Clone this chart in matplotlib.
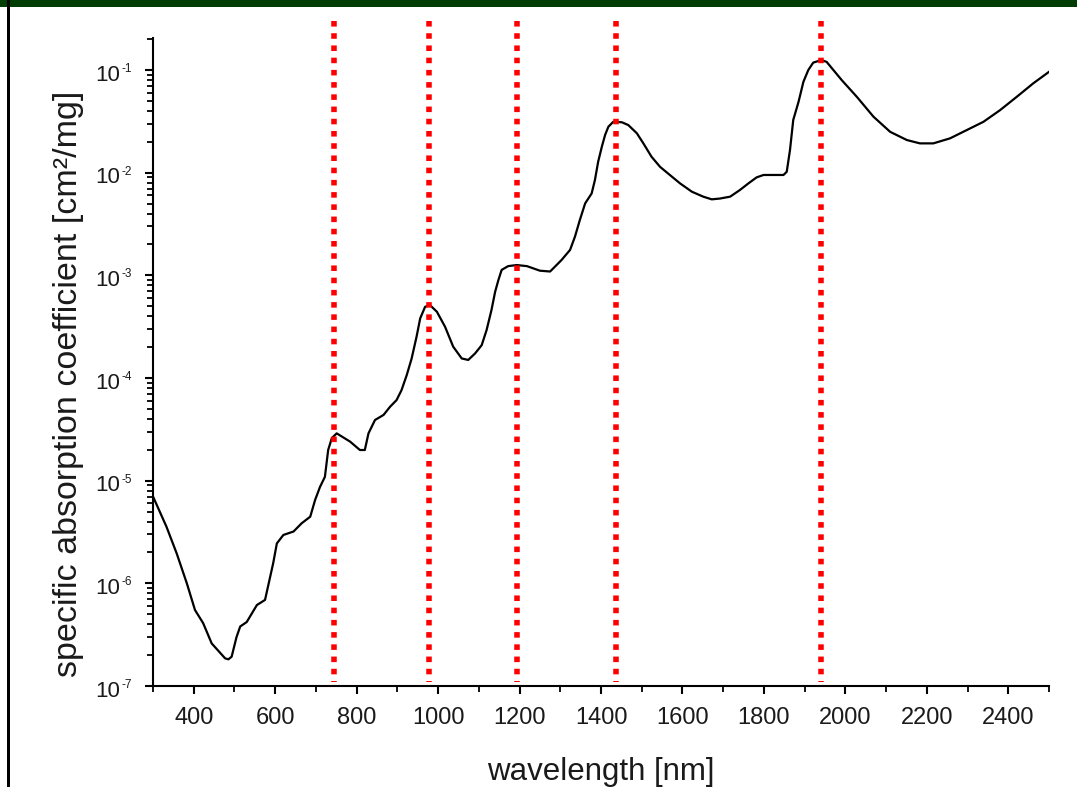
import matplotlib
matplotlib.use("Agg")
import matplotlib.pyplot as plt
from matplotlib.patches import Rectangle
from matplotlib.transforms import offset_copy
from matplotlib.ticker import LogLocator, MultipleLocator

plt.rcParams['font.family'] = ['Liberation Sans', 'DejaVu Sans']

# wavelength [nm] and specific absorption coefficient [cm²/mg]
wavelength = [300, 333, 358, 383, 403, 423, 444, 477, 485, 493, 505, 514, 530, 555,
              575, 595, 604, 620, 645, 665, 686, 698, 710, 722, 730, 739, 751, 784,
              808, 820, 829, 845, 866, 882, 898, 910, 923, 935, 947, 956, 968, 980,
              997, 1017, 1037, 1058, 1074, 1091, 1107, 1119, 1131, 1140, 1148, 1156,
              1172, 1193, 1218, 1250, 1275, 1303, 1324, 1336, 1348, 1361, 1377, 1385,
              1393, 1402, 1410, 1418, 1430, 1451, 1467, 1488, 1504, 1524, 1545, 1569,
              1594, 1623, 1651, 1672, 1692, 1717, 1741, 1762, 1782, 1799, 1848, 1856,
              1864, 1872, 1885, 1897, 1909, 1921, 1941, 1954, 1991, 2028, 2069, 2110,
              2151, 2183, 2216, 2257, 2298, 2339, 2380, 2421, 2461, 2500]
absorption = [7.0e-6, 3.56e-6, 1.96e-6, 1.0e-6, 5.5e-7, 4.1e-7, 2.6e-7, 1.86e-7, 1.82e-7,
              1.93e-7, 3.0e-7, 3.8e-7, 4.2e-7, 6.15e-7, 6.9e-7, 1.57e-6, 2.45e-6, 2.96e-6,
              3.2e-6, 3.85e-6, 4.46e-6, 6.5e-6, 8.7e-6, 1.09e-5, 1.99e-5, 2.6e-5, 2.89e-5,
              2.4e-5, 1.99e-5, 1.99e-5, 2.89e-5, 3.9e-5, 4.37e-5, 5.25e-5, 6.1e-5, 7.6e-5,
              1.07e-4, 1.55e-4, 2.52e-4, 3.81e-4, 4.94e-4, 5.13e-4, 4.42e-4, 3.16e-4,
              2.02e-4, 1.55e-4, 1.5e-4, 1.74e-4, 2.09e-4, 2.93e-4, 4.59e-4, 6.92e-4,
              9.0e-4, 1.13e-3, 1.23e-3, 1.26e-3, 1.23e-3, 1.11e-3, 1.09e-3, 1.41e-3,
              1.77e-3, 2.38e-3, 3.46e-3, 5.02e-3, 6.28e-3, 8.47e-3, 1.28e-2, 1.79e-2,
              2.33e-2, 2.8e-2, 3.13e-2, 3.1e-2, 2.91e-2, 2.42e-2, 1.93e-2, 1.43e-2,
              1.14e-2, 9.5e-3, 7.87e-3, 6.53e-3, 5.84e-3, 5.5e-3, 5.6e-3, 5.84e-3,
              6.78e-3, 7.87e-3, 9.0e-3, 9.5e-3, 9.5e-3, 1.02e-2, 1.66e-2, 3.26e-2,
              4.9e-2, 7.69e-2, 1.0e-1, 1.18e-1, 1.25e-1, 1.2e-1, 7.98e-2, 5.49e-2,
              3.51e-2, 2.5e-2, 2.08e-2, 1.93e-2, 1.93e-2, 2.16e-2, 2.6e-2, 3.13e-2,
              4.07e-2, 5.49e-2, 7.4e-2, 9.6e-2]

# absorption peaks marked with red lines
peaks = [745, 978, 1193, 1437, 1941]

# y axis decades (exponents of 10)
decades = [-7, -6, -5, -4, -3, -2, -1]

fig = plt.figure(figsize=(10.77, 7.87), dpi=100)
ax = fig.add_axes([0.1421, 0.1283, 0.8319, 0.8234])

# frame pieces of the original slide
fig.patches.append(Rectangle((0, 1 - 7 / 787), 1, 7 / 787, transform=fig.transFigure,
                             facecolor='#003d02', edgecolor='none'))
fig.patches.append(Rectangle((7 / 1077, 0), 2.5 / 1077, 1, transform=fig.transFigure,
                             facecolor='black', edgecolor='none'))

ax.plot(wavelength, absorption, color='black', lw=1.6)

for p in peaks:
    ax.plot([p, p], [0.30, 1.1e-7], color='red', lw=4, linestyle=(0, (1, 1.2)),
            clip_on=False, zorder=3)

ax.set_yscale('log')
ax.set_xlim(300, 2500)
ax.set_ylim(1e-7, 0.205)

ax.xaxis.set_minor_locator(MultipleLocator(100))
ax.set_xticks(range(400, 2401, 200))
ax.set_yticks([10.0 ** e for e in decades])
ax.yaxis.set_minor_locator(LogLocator(base=10, subs=range(2, 10), numticks=12))

for s in ['top', 'right']:
    ax.spines[s].set_visible(False)
for s in ['left', 'bottom']:
    ax.spines[s].set_linewidth(1.5)

ax.tick_params(which='major', direction='out', length=6, width=1.5,
               labelcolor='#1a1a1a')
ax.tick_params(which='minor', direction='out', length=4, width=1.3)
ax.tick_params(axis='x', which='major', pad=9, labelsize=17)
ax.tick_params(axis='y', which='both', labelleft=False)

# y tick labels as "10" with a small raised exponent, like the original
ytr = ax.get_yaxis_transform()
base_tr = offset_copy(ytr, fig=fig, x=-33, y=-5, units='dots')
exp_tr = offset_copy(ytr, fig=fig, x=-32, y=1, units='dots')
for e in decades:
    ax.text(0, 10.0 ** e, '10', transform=base_tr, ha='right', va='center',
            fontsize=16, color='#1a1a1a')
    ax.text(0, 10.0 ** e, '-%d' % -e, transform=exp_tr, ha='left', va='center',
            fontsize=8.5, color='#1a1a1a')

ax.set_xlabel('wavelength [nm]', fontsize=22.5, color='#1a1a1a', labelpad=20)
ax.set_ylabel('specific absorption coefficient [cm²/mg]', fontsize=24.5,
              color='#1a1a1a')
ax.yaxis.set_label_coords(-0.077, 0.466)

fig.savefig('out.png', dpi=100)
